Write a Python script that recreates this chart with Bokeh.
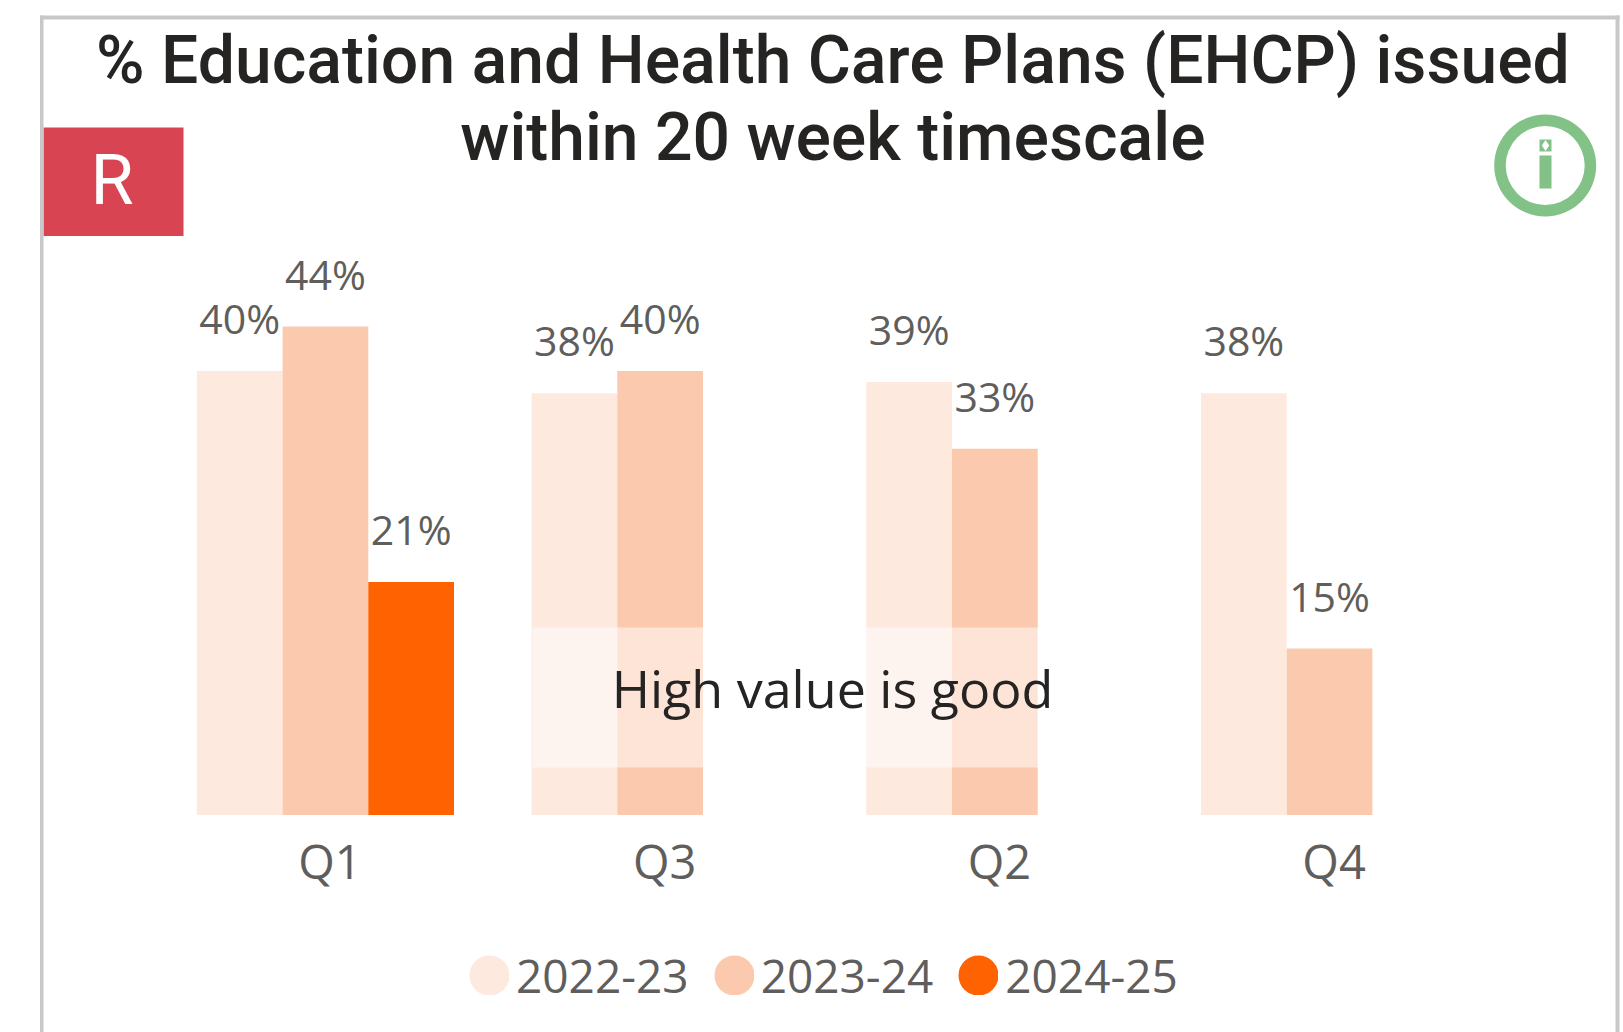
from bokeh.plotting import figure
from bokeh.models import (ColumnDataSource, Range1d, FixedTicker, LabelSet, Label,
                          BoxAnnotation, Legend, LegendItem)
from bokeh.embed import file_html
from bokeh.resources import INLINE
from bokeh.core.properties import value

quarters = ["Q1", "Q3", "Q2", "Q4"]
series_names = ["2022-23", "2023-24", "2024-25"]
v_2022 = [40, 38, 39, 38]
v_2023 = [44, 40, 33, 15]
v_2024 = [21, None, None, None]
colors = ["#FDE9DE", "#FAC9AE", "#FF6200"]
title_text = "% Education and Health Care Plans (EHCP) issued\nwithin 20 week timescale"
note_text = "High value is good"
rag_text = "R"

W, H = 1623, 1032
PITCH, UNIT = 334.7, 11.1
FRAME_L, BASE_Y = 157.6, 814.5
BAR = 85.7 / PITCH
SANS = "Open Sans"
DIN = "Roboto Medium"
GREY = "#605E5C"
DARK = "#252423"
LABEL_SHIFT = 0.36


def px(x):
    return (x - FRAME_L) / PITCH


def py(y):
    return (BASE_Y - y) / UNIT


p = figure(width=W, height=H, output_backend="svg", toolbar_location=None,
           x_range=Range1d(px(0), px(W)), y_range=Range1d(py(H), py(0)),
           y_axis_location=None, min_border_left=0, min_border_right=0,
           min_border_top=0, min_border_bottom=0,
           outline_line_color=None, background_fill_color="white")
p.grid.visible = False

# chart frame
for l, r, t, b in [(39.5, 43, 15, H), (1615, 1619, 15, H), (39.5, 1619, 15, 19)]:
    p.add_layout(BoxAnnotation(left=px(l), right=px(r), top=py(t), bottom=py(b),
                               fill_color="#C8C8C8", fill_alpha=1, line_color=None))

# bars
renderers = []
for k, (name, vals, col) in enumerate(zip(series_names, [v_2022, v_2023, v_2024], colors)):
    xs = [i + 0.5 + (k - 1) * BAR for i, v in enumerate(vals) if v is not None]
    ys = [v for v in vals if v is not None]
    src = ColumnDataSource(dict(x=xs, y=ys, t=[f"{v}%" for v in ys]))
    p.vbar(x="x", top="y", bottom=0, width=BAR, source=src, fill_color=col, line_color=None)
    p.add_layout(LabelSet(x="x", y="y", text="t", source=src, y_offset=37, text_align="center",
                          text_baseline="alphabetic", text_font=value(SANS),
                          text_font_size="41px", text_color=GREY))
    renderers.append(p.scatter([float("nan")], [float("nan")], marker="circle", size=16,
                               line_width=24, fill_color=col, line_color=col))

# translucent note box and note
p.quad(left=px(532), right=px(1038), top=py(627), bottom=py(767), fill_color="white",
       fill_alpha=0.5, line_color=None)
p.add_layout(Label(x=px(832), y=py(706 - LABEL_SHIFT * 52), text=note_text, text_align="center",
                   text_baseline="alphabetic", text_font=SANS, text_font_size="52px", text_color=DARK))

# title
lines = title_text.split("\n")
for line, base in zip(lines, [84, 161]):
    p.add_layout(Label(x=px(832.5), y=py(base - LABEL_SHIFT * 66), text=line, text_align="center",
                       text_baseline="alphabetic", text_font=DIN, text_font_size="66px", text_color=DARK))

# RAG badge
p.quad(left=px(43), right=px(183), top=py(127), bottom=py(235.5), fill_color="#D94452", line_color=None)
p.add_layout(Label(x=px(111.5), y=py(205 - LABEL_SHIFT * 70), text=rag_text, text_align="center",
                   text_baseline="alphabetic", text_font="Roboto", text_font_size="70px", text_color="white"))

# info icon
GREEN = "#83C287"
p.annulus(x=[px(1544.7)], y=[py(165)], inner_radius=39.5, outer_radius=51,
          inner_radius_units="screen", outer_radius_units="screen", fill_color=GREEN, line_color=None)
p.quad(left=px(1539), right=px(1551), top=py(155), bottom=py(188), fill_color=GREEN, line_color=None)
p.quad(left=px(1539), right=px(1551), top=py(139), bottom=py(151), fill_color=GREEN, line_color=None)
p.scatter([px(1545)], [py(145)], marker="diamond", size=11, fill_color="white", line_color=None)

# axis
ax = p.xaxis[0]
tick_pos = [i + 0.5 + 4.5 / PITCH for i in range(len(quarters))]
ax.fixed_location = 0
ax.ticker = FixedTicker(ticks=tick_pos)
ax.major_label_overrides = dict(zip(tick_pos, quarters))
ax.axis_line_color = None
ax.major_tick_line_color = None
ax.minor_tick_line_color = None
ax.major_label_standoff = 8
ax.major_label_text_font = SANS
ax.major_label_text_font_size = "47px"
ax.major_label_text_color = GREY

# legend
legend = Legend(items=[LegendItem(label=n, renderers=[r]) for n, r in zip(series_names, renderers)],
                orientation="horizontal", location=(469, 26), glyph_width=40, glyph_height=40,
                label_standoff=7, spacing=25, padding=0, margin=0, border_line_color=None,
                background_fill_alpha=0, label_text_font=SANS, label_text_font_size="46px",
                label_text_color=GREY)
p.add_layout(legend, "center")

open("out.html", "w").write(file_html(p, INLINE))
